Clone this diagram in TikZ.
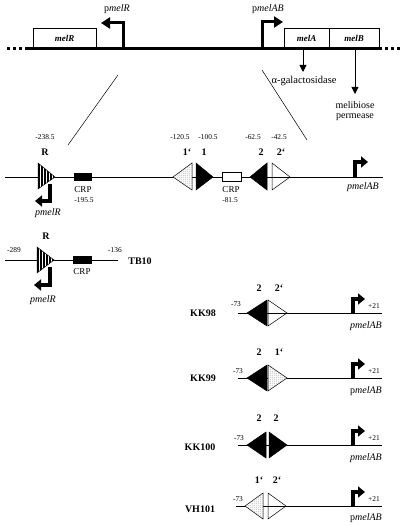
\documentclass[tikz,border=0pt]{standalone}
\usepackage{fontspec}
\setmainfont{Liberation Serif}
\usetikzlibrary{arrows.meta,patterns}
\pgfdeclarepatternformonly{finedots}{\pgfpointorigin}{\pgfqpoint{2.2pt}{2.2pt}}{\pgfqpoint{2.2pt}{2.2pt}}{%
  \pgfpathcircle{\pgfqpoint{1.1pt}{1.1pt}}{0.5pt}\pgfusepath{fill}}
\begin{document}
\begin{tikzpicture}[x=1pt,y=-1pt,
  every node/.style={inner sep=0pt,outer sep=0pt},
  thickline/.style={line width=3pt},
  dnaline/.style={line width=0.8pt},
  thin/.style={line width=0.5pt},
  bigprom/.style={line width=3pt,-{Triangle[length=9pt,width=11pt]}},
  prom/.style={line width=3.8pt,-{Triangle[length=7pt,width=11pt]}},
  downarrow/.style={line width=0.9pt,-{Triangle[length=7pt,width=7pt]}},
  num/.style={font=\fontsize{7.4}{8}\selectfont},
  lab/.style={font=\fontsize{10}{12}\selectfont\bfseries},
  txt/.style={font=\fontsize{10}{12}\selectfont},
  crp/.style={font=\fontsize{9}{10}\selectfont},
  blk/.style={fill=black,draw=black,line width=0.5pt},
  wht/.style={draw=black,line width=0.5pt},
  dotfill/.style={draw=black,line width=0.5pt,fill=white,postaction={pattern=finedots,pattern color=black!75}}
]
\useasboundingbox (0,0) rectangle (400,526);

% ---------- top map ----------
\coordinate (L0) at (25,49); \coordinate (L1) at (382,49);
\draw[thickline] (L0) -- (L1);
\draw[line width=3pt,dash pattern=on 3pt off 3pt] (7,49) -- (23,49);
\draw[line width=3pt,dash pattern=on 3pt off 3pt] (385,49) -- (400,49);
\draw[thin] (33,49) rectangle (96,28);
\node[font=\fontsize{9}{10}\selectfont\bfseries\itshape] (melR) at (64.5,38.5) {melR};
\draw[thin] (284,49) rectangle (329,28);
\node[font=\fontsize{9}{10}\selectfont\bfseries\itshape] (melA) at (306.5,38.5) {melA};
\draw[thin] (329,49) rectangle (379,28);
\node[font=\fontsize{9}{10}\selectfont\bfseries\itshape] (melB) at (354,38.5) {melB};

\coordinate (pR0) at (123,50); \coordinate (pR1) at (123,23); \coordinate (pR2) at (101,23);
\draw[bigprom] (pR0) -- (pR1) -- (pR2);
\node[txt] (pmelRtop) at (117,9) {p\textit{melR}};
\coordinate (pA0) at (262,50); \coordinate (pA1) at (262,22); \coordinate (pA2) at (283,22);
\draw[bigprom] (pA0) -- (pA1) -- (pA2);
\node[txt] (pmelABtop) at (268,9) {p\textit{melAB}};

\coordinate (a0) at (303,49); \coordinate (a1) at (303,72);
\draw[downarrow] (a0) -- (a1);
\node[font=\fontsize{10.5}{12}\selectfont] (agal) at (304,81) {α-galactosidase};
\coordinate (b0) at (355,49); \coordinate (b1) at (355,94);
\draw[downarrow] (b0) -- (b1);
\node[txt] (meli) at (355,105) {melibiose};
\node[txt] (perm) at (355,117) {permease};

% zoom lines
\coordinate (z1a) at (118,75); \coordinate (z1b) at (68,145);
\coordinate (z2a) at (262,70); \coordinate (z2b) at (307,140);
\draw[line width=0.5pt] (z1a) -- (z1b);
\draw[line width=0.5pt] (z2a) -- (z2b);

% ---------- main construct ----------
\coordinate (m0) at (5,177); \coordinate (m1) at (383,177);
\draw[dnaline] (m0) -- (m1);
% R site
\fill[white] (38,163) -- (55,177) -- (38,189) -- cycle;
\begin{scope}
  \clip (38,163) -- (55,177) -- (38,189) -- cycle;
  \foreach \xx in {39.2,42.2,45.2,48.2,51.2,54.2} \draw[line width=1.6pt] (\xx,160) -- (\xx,192);
\end{scope}
\draw[wht] (38,163) -- (55,177) -- (38,189) -- cycle;
\node[lab] (Rm) at (45,152) {R};
\node[num] (nR) at (45,137) {-238.5};
\coordinate (r0) at (50,184); \coordinate (r1) at (50,201); \coordinate (r2) at (35,201);
\draw[prom] (r0) -- (r1) -- (r2);
\node[txt] (pmelRm) at (48,213) {\textit{pmelR}};
% CRP 1
\fill (74,173) rectangle (92,181);
\node[crp] (crp1) at (83,190) {CRP};
\node[num] (n1955) at (84,200) {-195.5};
% 1' and 1
\draw[dotfill] (192,163) -- (173,177) -- (192,190) -- cycle;
\draw[blk] (196,163) -- (213,177) -- (196,190) -- cycle;
\node[num] (n1205) at (180,137) {-120.5};
\node[lab] (s1p) at (187,152) {1`};
\node[num] (n1005) at (208,137) {-100.5};
\node[lab] (s1) at (204,152) {1};
% CRP 2
\draw[thin,fill=white] (222,172) rectangle (241,181);
\node[crp] (crp2) at (231,190) {CRP};
\node[num] (n815) at (230,200) {-81.5};
% 2 and 2'
\draw[blk] (267,163) -- (250,177) -- (267,190) -- cycle;
\draw[wht] (272,163) -- (290,177) -- (272,190) -- cycle;
\node[num] (n625) at (253,137) {-62.5};
\node[lab] (s2) at (261,152) {2};
\node[num] (n425) at (279,137) {-42.5};
\node[lab] (s2p) at (281,152) {2`};
% pmelAB
\coordinate (q0) at (355,177); \coordinate (q1) at (355,162); \coordinate (q2) at (368,162);
\draw[prom] (q0) -- (q1) -- (q2);
\node[txt] (pmelABm) at (363,187) {\textit{pmelAB}};

% ---------- TB10 ----------
\coordinate (t0) at (5,260); \coordinate (t1) at (118,260);
\draw[dnaline] (t0) -- (t1);
\fill[white] (37,247) -- (54,260) -- (37,273) -- cycle;
\begin{scope}
  \clip (37,247) -- (54,260) -- (37,273) -- cycle;
  \foreach \xx in {38.2,41.2,44.2,47.2,50.2,53.2} \draw[line width=1.6pt] (\xx,244) -- (\xx,276);
\end{scope}
\draw[wht] (37,247) -- (54,260) -- (37,273) -- cycle;
\node[lab] (Rt) at (46,236) {R};
\node[num] (n289) at (14,250) {-289};
\node[num] (n136) at (115,250) {-136};
\fill (73,256) rectangle (92,264);
\node[crp] (crpt) at (82,272) {CRP};
\coordinate (tr0) at (50,267); \coordinate (tr1) at (50,285); \coordinate (tr2) at (34,285);
\draw[prom] (tr0) -- (tr1) -- (tr2);
\node[txt] (pmelRt) at (43,300) {\textit{pmelR}};
\node[lab] (TB10) at (140,261) {TB10};

% ---------- constructs ----------
% KK98
\begin{scope}[shift={(0,313)}]
  \coordinate (k0) at (238,0); \coordinate (k1) at (382,0);
  \draw[dnaline] (k0) -- (k1);
  \draw[blk] (267,-13) -- (247,0) -- (267,13) -- cycle;
  \draw[wht] (268,-13) -- (287,0) -- (268,13) -- cycle;
  \node[lab] (kk98a) at (259,-25) {2};
  \node[lab] (kk98b) at (279,-25) {2`};
  \node[num] (kk98l) at (236,-9) {-73};
  \node[num] (kk98r) at (374,-7) {+21};
  \coordinate (kp0) at (353,0); \coordinate (kp1) at (353,-14); \coordinate (kp2) at (365,-14);
  \draw[prom] (kp0) -- (kp1) -- (kp2);
  \node[txt] (kk98p) at (366,13) {\textit{pmelAB}};
  \node[lab] (KK98) at (203,0) {KK98};
\end{scope}
% KK99
\begin{scope}[shift={(0,378)}]
  \coordinate (k0) at (238,0); \coordinate (k1) at (382,0);
  \draw[dnaline] (k0) -- (k1);
  \draw[blk] (267,-13) -- (247,0) -- (267,13) -- cycle;
  \draw[dotfill] (268,-13) -- (287,0) -- (268,13) -- cycle;
  \node[lab] (kk99a) at (259,-26) {2};
  \node[lab] (kk99b) at (279,-26) {1`};
  \node[num] (kk99l) at (238,-7) {-73};
  \node[num] (kk99r) at (374,-7) {+21};
  \coordinate (kp0) at (353,0); \coordinate (kp1) at (353,-14); \coordinate (kp2) at (365,-14);
  \draw[prom] (kp0) -- (kp1) -- (kp2);
  \node[txt] (kk99p) at (366,13) {p\textit{melAB}};
  \node[lab] (KK99) at (203,0) {KK99};
\end{scope}
% KK100
\begin{scope}[shift={(0,445)}]
  \coordinate (k0) at (238,0); \coordinate (k1) at (382,0);
  \draw[dnaline] (k0) -- (k1);
  \draw[blk] (266,-13) -- (247,0) -- (266,13) -- cycle;
  \draw[blk] (269,-13) -- (287,0) -- (269,13) -- cycle;
  \node[lab] (kk100a) at (259,-27) {2};
  \node[lab] (kk100b) at (276,-27) {2};
  \node[num] (kk100l) at (239,-7) {-73};
  \node[num] (kk100r) at (374,-7) {+21};
  \coordinate (kp0) at (353,0); \coordinate (kp1) at (353,-14); \coordinate (kp2) at (365,-14);
  \draw[prom] (kp0) -- (kp1) -- (kp2);
  \node[txt] (kk100p) at (366,13) {\textit{pmelAB}};
  \node[lab] (KK100) at (200,2) {KK100};
\end{scope}
% VH101
\begin{scope}[shift={(0,506)}]
  \coordinate (k0) at (236,0); \coordinate (k1) at (382,0);
  \draw[dnaline] (k0) -- (k1);
  \draw[dotfill] (263,-13) -- (245,0) -- (263,13) -- cycle;
  \draw[wht] (268,-13) -- (286,0) -- (268,13) -- cycle;
  \node[lab] (vha) at (259,-26) {1`};
  \node[lab] (vhb) at (277,-26) {2`};
  \node[num] (vhl) at (238,-7) {-73};
  \node[num] (vhr) at (374,-7) {+21};
  \coordinate (kp0) at (353,0); \coordinate (kp1) at (353,-14); \coordinate (kp2) at (365,-14);
  \draw[prom] (kp0) -- (kp1) -- (kp2);
  \node[txt] (vhp) at (366,12) {p\textit{melAB}};
  \node[lab] (VH101) at (200,3) {VH101};
\end{scope}
\end{tikzpicture}
\end{document}
